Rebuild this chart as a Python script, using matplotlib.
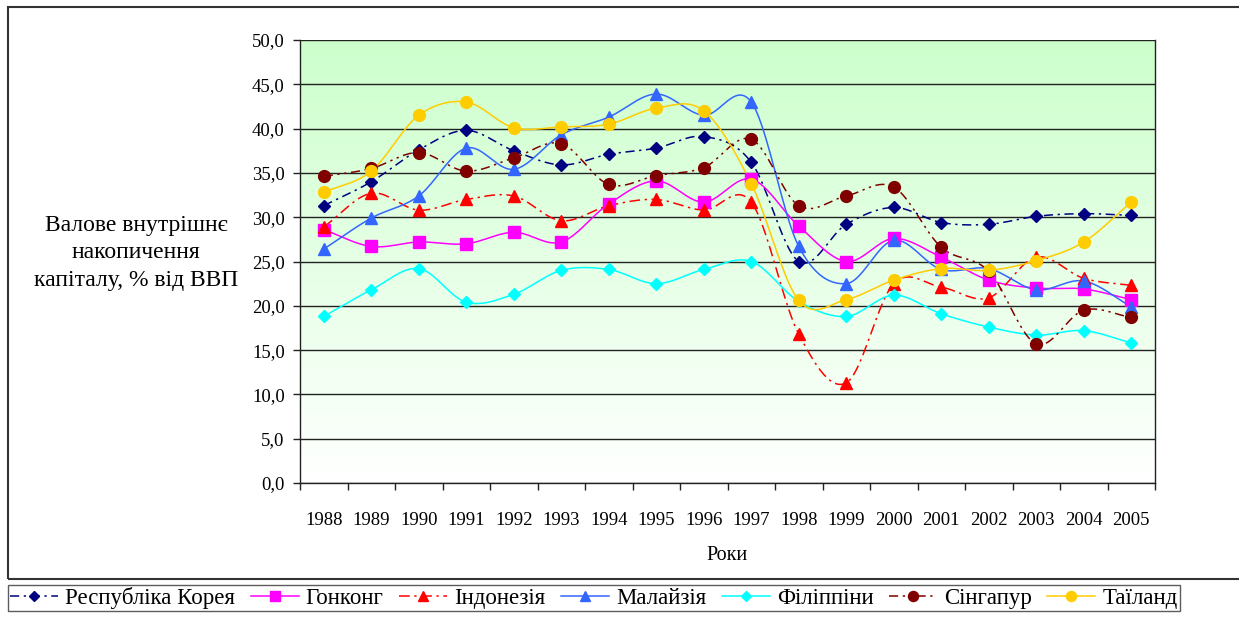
import numpy as np
import matplotlib
matplotlib.use("Agg")
import matplotlib.pyplot as plt
from matplotlib.lines import Line2D
from matplotlib.patches import Rectangle

plt.rcParams['font.family'] = ['Liberation Serif', 'DejaVu Serif']

years = ['1988', '1989', '1990', '1991', '1992', '1993', '1994', '1995', '1996',
         '1997', '1998', '1999', '2000', '2001', '2002', '2003', '2004', '2005']

korea = [31.3, 34.0, 37.6, 39.8, 37.5, 35.9, 37.1, 37.8, 39.1,
         36.2, 25.0, 29.2, 31.1, 29.4, 29.2, 30.1, 30.4, 30.2]
hongkong = [28.6, 26.7, 27.2, 27.0, 28.3, 27.2, 31.5, 34.1, 31.7,
            34.3, 29.0, 25.0, 27.6, 25.5, 22.9, 22.0, 21.9, 20.7]
indonesia = [28.9, 32.7, 30.8, 32.0, 32.4, 29.6, 31.3, 32.0, 30.8,
             31.7, 16.8, 11.3, 22.5, 22.1, 20.9, 25.5, 23.1, 22.3]
malaysia = [26.4, 29.9, 32.4, 37.8, 35.4, 39.3, 41.3, 43.9, 41.5,
            43.0, 26.7, 22.5, 27.4, 24.1, 24.2, 21.8, 22.8, 19.9]
philippines = [18.8, 21.8, 24.2, 20.4, 21.3, 24.0, 24.1, 22.5, 24.1,
               25.0, 20.5, 18.8, 21.2, 19.1, 17.6, 16.7, 17.2, 15.8]
singapore = [34.6, 35.5, 37.3, 35.2, 36.7, 38.3, 33.7, 34.7, 35.6,
             38.8, 31.3, 32.4, 33.4, 26.6, 23.9, 15.7, 19.5, 18.7]
thailand = [32.8, 35.2, 41.5, 43.0, 40.1, 40.2, 40.5, 42.3, 42.0,
            33.8, 20.6, 20.7, 22.9, 24.2, 24.0, 25.1, 27.2, 31.7]

series_names = ['Республіка Корея', 'Гонконг', 'Індонезія', 'Малайзія',
                'Філіппіни', 'Сінгапур', 'Таїланд']
series_values = [korea, hongkong, indonesia, malaysia, philippines, singapore, thailand]
colors = ['#000080', '#FF00FF', '#FF0000', '#3366FF', '#00FFFF', '#800000', '#FFCC00']
markers = ['D', 's', '^', '^', 'D', 'o', 'o']
msizes = [6.5, 8, 9, 9, 6.5, 8.5, 8.5]
lstyles = [(0, (6, 3, 1.5, 3)), '-', (0, (7, 3, 1.5, 3)), '-', '-',
           (0, (6, 3, 1.5, 3, 1.5, 3)), '-']

yticks = [0, 5, 10, 15, 20, 25, 30, 35, 40, 45, 50]


def smooth(x, y, n=20):
    # Catmull-Rom style smoothing (Excel "smoothed line" look)
    x = np.asarray(x, float)
    y = np.asarray(y, float)
    px = np.concatenate([[2 * x[0] - x[1]], x, [2 * x[-1] - x[-2]]])
    py = np.concatenate([[2 * y[0] - y[1]], y, [2 * y[-1] - y[-2]]])
    xs, ys = [], []
    t = np.linspace(0, 1, n, endpoint=False)
    for i in range(1, len(px) - 2):
        p0, p1, p2, p3 = py[i - 1], py[i], py[i + 1], py[i + 2]
        q0, q1, q2, q3 = px[i - 1], px[i], px[i + 1], px[i + 2]
        def cr(a0, a1, a2, a3):
            return 0.5 * ((2 * a1) + (-a0 + a2) * t + (2 * a0 - 5 * a1 + 4 * a2 - a3) * t ** 2
                          + (-a0 + 3 * a1 - 3 * a2 + a3) * t ** 3)
        xs.append(cr(q0, q1, q2, q3))
        ys.append(cr(p0, p1, p2, p3))
    xs.append([x[-1]])
    ys.append([y[-1]])
    return np.concatenate(xs), np.concatenate(ys)


W, H = 1239, 618
fig = plt.figure(figsize=(W / 100, H / 100), dpi=100)
ax = fig.add_axes([300 / W, 1 - 483 / H, 855 / W, 443 / H])

# gradient background
grad = np.linspace(0, 1, 256).reshape(-1, 1)
top = np.array([204, 255, 204]) / 255.0
bot = np.array([255, 255, 255]) / 255.0
img = bot[None, None, :] * (1 - grad[:, :, None]) + top[None, None, :] * grad[:, :, None]
ax.imshow(img, extent=[0, 1, 0, 1], transform=ax.transAxes, aspect='auto',
          origin='lower', zorder=0)

x = np.arange(len(years))
for name, vals, c, m, ms, ls in zip(series_names, series_values, colors, markers, msizes, lstyles):
    sx, sy = smooth(x, vals)
    ax.plot(sx, sy, color=c, linestyle=ls, linewidth=1.1, zorder=3)
    ax.plot(x, vals, linestyle='none', marker=m, markersize=ms, color=c,
            markeredgecolor=c, zorder=4)

ax.set_xlim(-0.5, len(years) - 0.5)
ax.set_ylim(0, 50)
ax.set_yticks(yticks)
ax.set_yticklabels([f"{v:.1f}".replace('.', ',') for v in yticks], fontsize=13.5)
ax.yaxis.grid(True, color='#222222', linewidth=1.0, zorder=1)
ax.set_axisbelow(True)
ax.set_xticks(x)
ax.set_xticklabels(years, fontsize=13.5)
ax.set_xticks(np.arange(len(years) + 1) - 0.5, minor=True)
ax.tick_params(axis='x', which='major', length=0, pad=21)
ax.tick_params(axis='x', which='minor', length=5, width=1, color='#222222')
ax.tick_params(axis='y', length=5, width=1, color='#222222', pad=6)
for s in ax.spines.values():
    s.set_color('#222222')
    s.set_linewidth(1.0)
ax.spines['top'].set_visible(False)

fig.text(727 / W, 1 - 556 / H, 'Роки', ha='center', va='center', fontsize=14.5)
fig.text(136 / W, 1 - 253 / H, 'Валове внутрішнє\nнакопичення\nкапіталу, % від ВВП',
         ha='center', va='center', fontsize=17, linespacing=1.38)

# outer chart border
fig.patches.append(Rectangle((8 / W, 1 - 579 / H), 1300 / W, 572 / H, transform=fig.transFigure,
                             fill=False, edgecolor='#333333', linewidth=1.5))

handles = [Line2D([0], [0], color=c, linestyle=ls, linewidth=1.1, marker=m,
                  markersize=ms * 0.85, markeredgecolor=c)
           for c, m, ms, ls in zip(colors, markers, msizes, lstyles)]
leg = fig.legend(handles, series_names, loc='center left', ncol=7,
                 bbox_to_anchor=(8 / W, 1 - 598 / H), fontsize=16.5, frameon=True,
                 fancybox=False, edgecolor='#333333', handlelength=2.1,
                 handletextpad=0.3, columnspacing=0.68, borderpad=0.1,
                 borderaxespad=0)
leg.get_frame().set_linewidth(1.0)
leg.get_frame().set_facecolor('white')

fig.savefig('out.png', dpi=100)
